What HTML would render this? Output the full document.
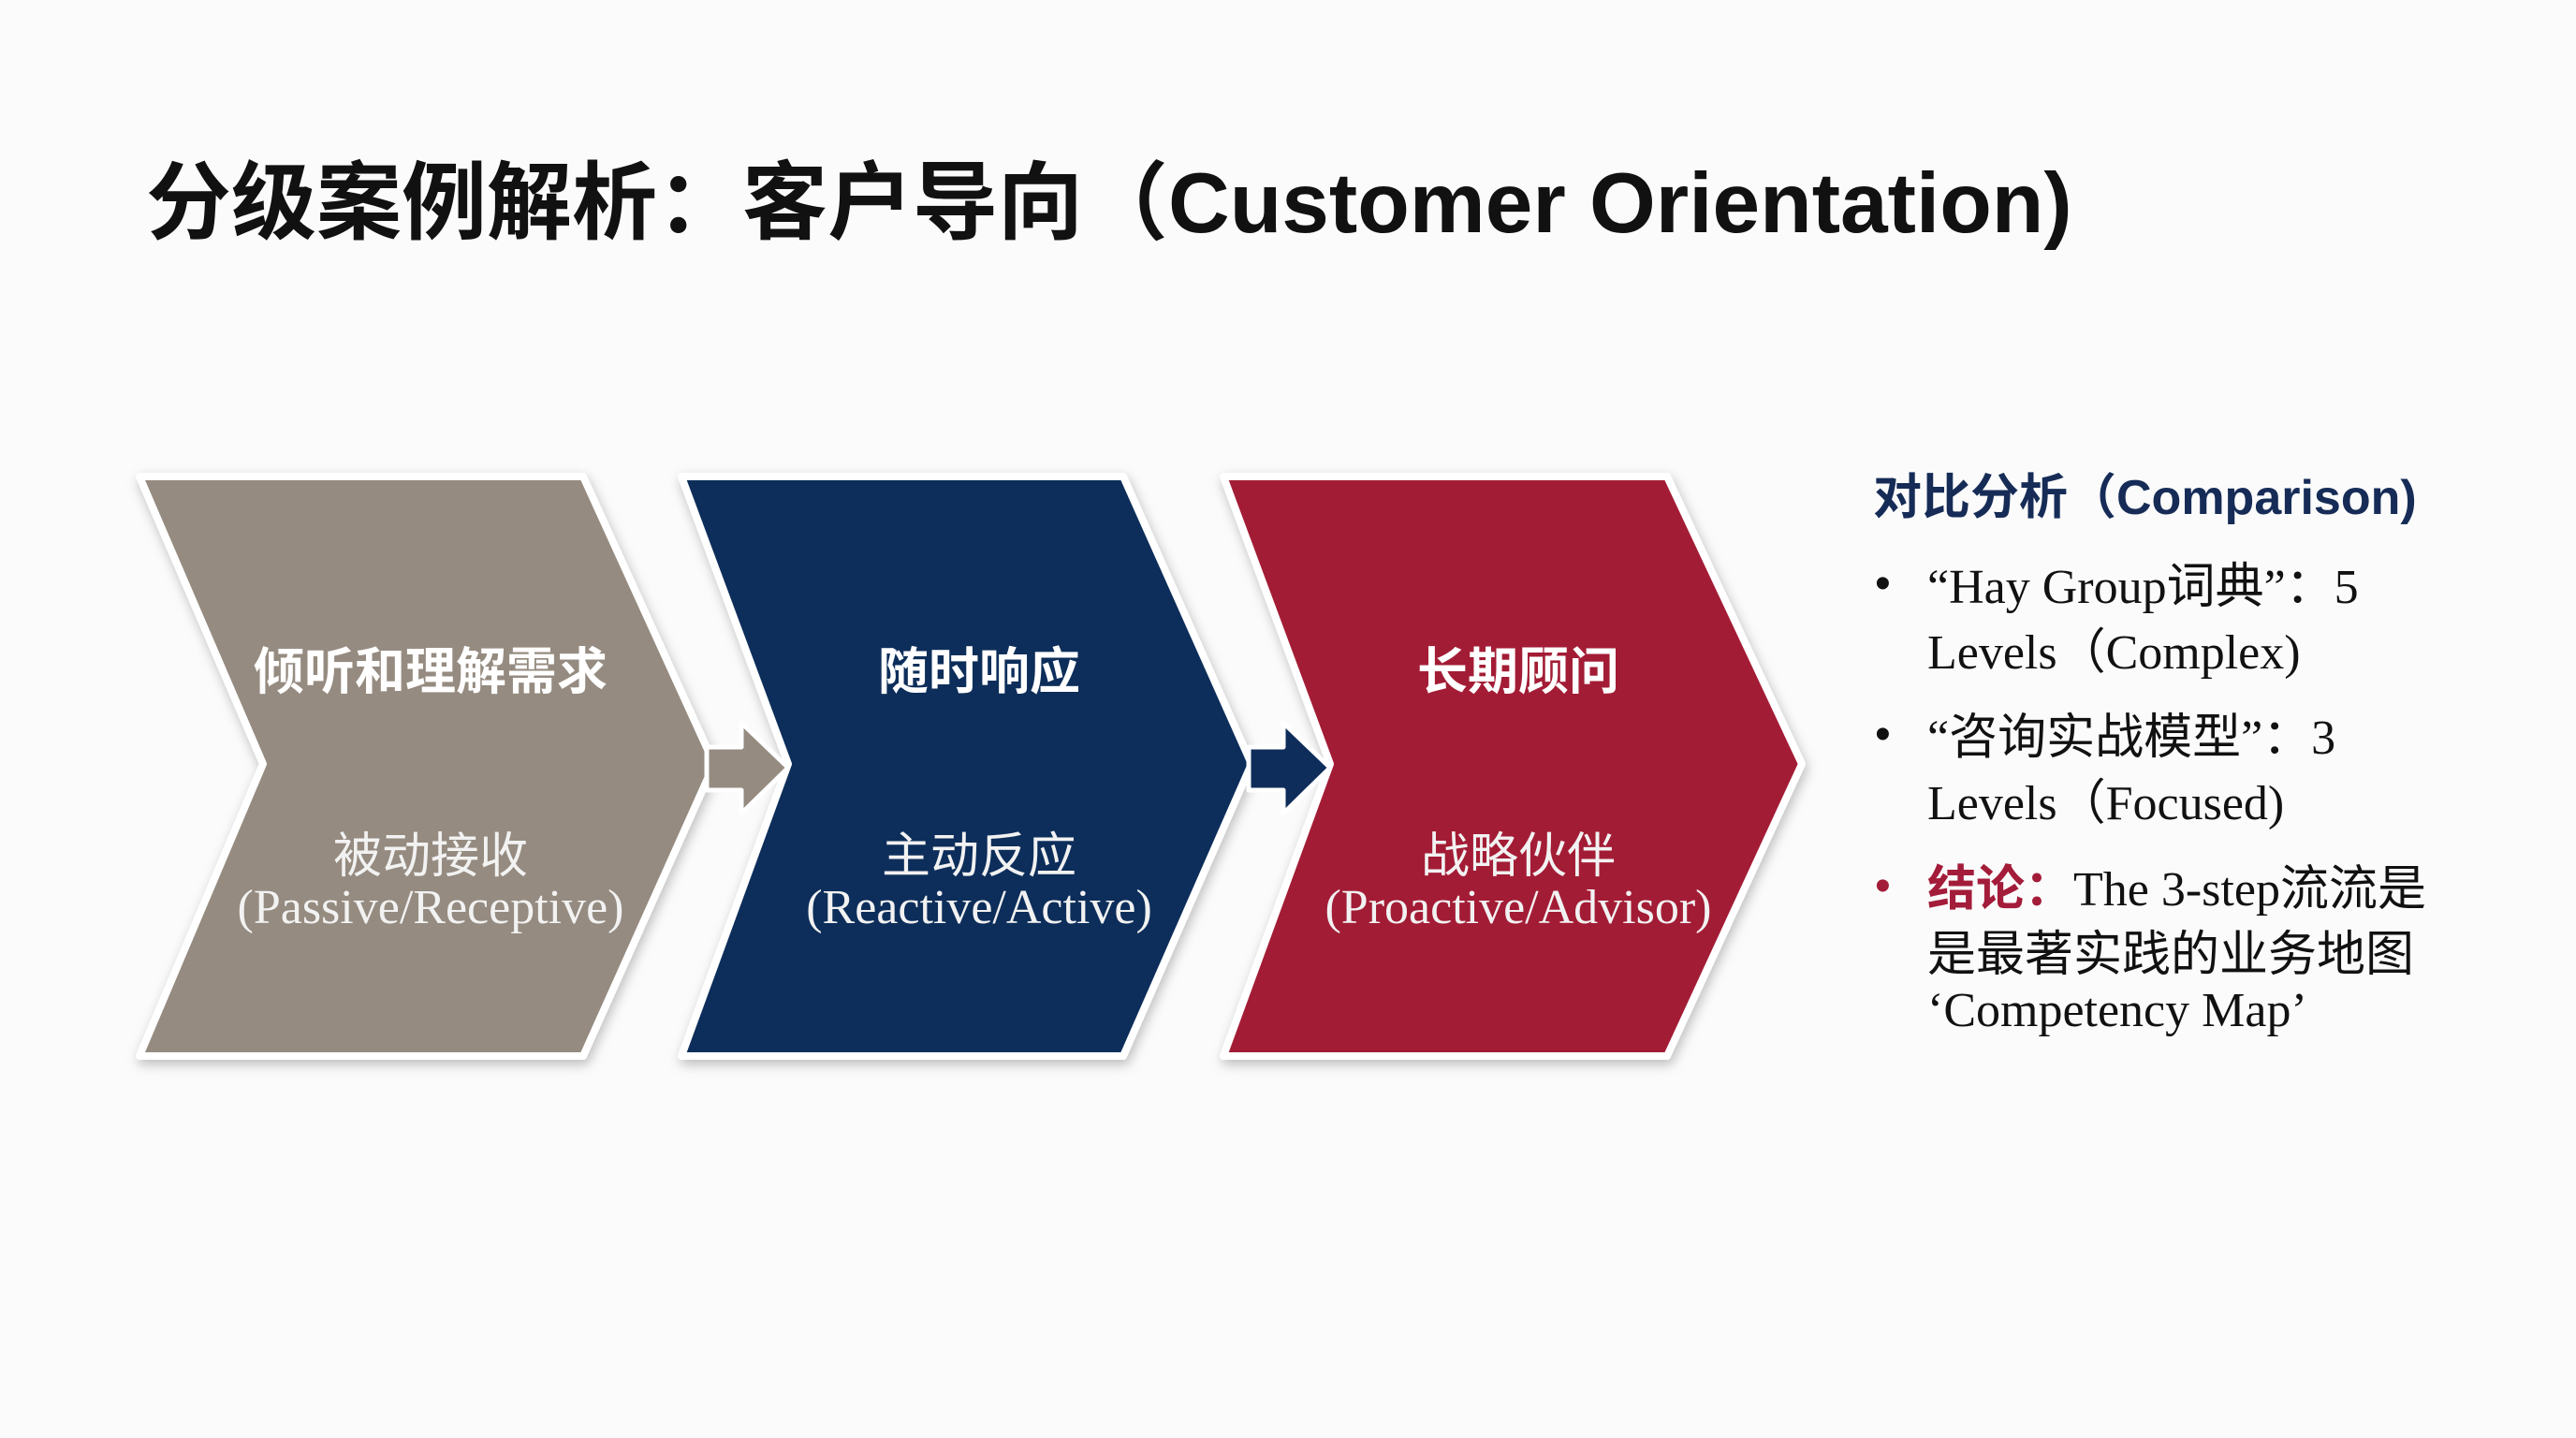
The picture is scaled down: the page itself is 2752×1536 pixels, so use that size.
<!DOCTYPE html>
<html><head><meta charset="utf-8"><style>
html,body{margin:0;padding:0;background:#fbfbfb;}
body{width:2752px;height:1536px;position:relative;overflow:hidden;}
.t{position:absolute;white-space:nowrap;}
.title{left:156px;top:143px;font:bold 91px "Liberation Sans","Noto Sans CJK SC",sans-serif;color:#111;}
.h{font:bold 54px "Liberation Sans","Noto Sans CJK SC",sans-serif;color:#fff;transform:translateX(-50%);}
.s{font:52px "Liberation Sans","Noto Sans CJK SC",sans-serif;color:#f2f2f2;transform:translateX(-50%);}
.e{font:52px "Liberation Serif","Noto Serif CJK SC",serif;color:#f2f2f2;transform:translateX(-50%);}
.rh{left:2001px;top:489px;font:bold 52px "Liberation Sans","Noto Sans CJK SC",sans-serif;color:#162c57;}
.r{left:2059px;font:52px "Liberation Serif","Noto Sans CJK SC",serif;color:#111;}
.b{left:2003px;font:48px "Liberation Sans",sans-serif;color:#111;}
</style></head><body>
<div class="t title">分级案例解析：客户导向（Customer Orientation)</div>
<svg width="2752" height="1536" style="position:absolute;left:0;top:0">
<defs><filter id="sh" x="-10%" y="-10%" width="120%" height="120%"><feDropShadow dx="2" dy="5" stdDeviation="6" flood-color="#000" flood-opacity="0.25"/></filter></defs>
<g stroke="#fff" stroke-width="8" stroke-linejoin="round" filter="url(#sh)">
<polygon points="149,509 623,509 763,816 623,1128 149,1128 281,816" fill="#958b80"/>
<polygon points="728,509 1200,509 1337,816 1200,1128 728,1128 842,816" fill="#0f2d5a"/>
<polygon points="1307,509 1781,509 1925,816 1781,1128 1307,1128 1421,816" fill="#a31a35"/>
</g>
<polygon points="755,798 792,798 792,772 842,820 792,869 792,844 755,844" fill="#958b80" stroke="#fff" stroke-width="5" stroke-linejoin="round"/>
<polygon points="1334,798 1371,798 1371,772 1421,820 1371,869 1371,844 1334,844" fill="#0f2d5a" stroke="#fff" stroke-width="5" stroke-linejoin="round"/>
</svg>
<div class="t h" style="left:460px;top:673px">倾听和理解需求</div>
<div class="t s" style="left:460px;top:872px">被动接收</div>
<div class="t e" style="left:460px;top:940px">(Passive/Receptive)</div>
<div class="t h" style="left:1046px;top:673px">随时响应</div>
<div class="t s" style="left:1046px;top:872px">主动反应</div>
<div class="t e" style="left:1046px;top:940px">(Reactive/Active)</div>
<div class="t h" style="left:1622px;top:673px">长期顾问</div>
<div class="t s" style="left:1622px;top:872px">战略伙伴</div>
<div class="t e" style="left:1622px;top:940px">(Proactive/Advisor)</div>

<div class="t rh">对比分析（Comparison)</div>
<div class="t b" style="top:596px">•</div>
<div class="t r" style="top:584px">“Hay Group词典”：5</div>
<div class="t r" style="top:654px">Levels（Complex)</div>
<div class="t b" style="top:757px">•</div>
<div class="t r" style="top:745px">“咨询实战模型”：3</div>
<div class="t r" style="top:815px">Levels（Focused)</div>
<div class="t b" style="top:919px;color:#a31c3a">•</div>
<div class="t r" style="top:907px"><b style="color:#a31c3a;font-family:'Liberation Sans','Noto Sans CJK SC',sans-serif">结论：</b>The 3-step流流是</div>
<div class="t r" style="top:977px">是最著实践的业务地图</div>
<div class="t r" style="top:1050px">‘Competency Map’</div>
</body></html>
